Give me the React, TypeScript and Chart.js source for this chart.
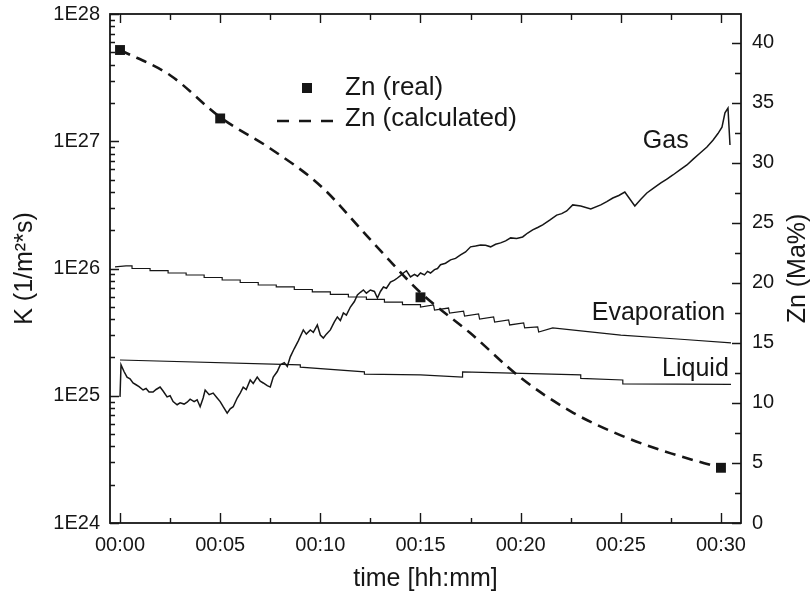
import React, { useEffect, useRef } from 'react';
import { Chart, registerables } from 'chart.js';

Chart.register(...registerables);

const FONT = '"Liberation Sans", Arial, Helvetica, sans-serif';
const INK = '#161616';

// ---- tick values ----
const timeTicks = [0, 5, 10, 15, 20, 25, 30];
const znTicks = [0, 5, 10, 15, 20, 25, 30, 35, 40];
const kDecades = [1e24, 1e25, 1e26, 1e27, 1e28];

// ---- Gas (K, 1/m²s) ----
const gasTime = [
  0.0, 0.05, 0.2, 0.35, 0.5, 0.65, 0.8, 0.95, 1.15, 1.3, 1.45, 1.65, 1.8, 2.0, 2.15, 2.35, 2.5, 2.65, 2.85, 3.0,
  3.2, 3.35, 3.5, 3.7, 3.85, 4.0, 4.15, 4.25, 4.45, 4.65, 4.85, 5.0, 5.15, 5.35, 5.5, 5.65, 5.85, 6.0, 6.15, 6.3,
  6.5, 6.65, 6.85, 7.0, 7.15, 7.35, 7.5, 7.65, 7.85, 8.0, 8.2, 8.35, 8.5, 8.7, 8.9, 9.15, 9.3, 9.5, 9.65, 9.85,
  10.0, 10.15, 10.3, 10.5, 10.7, 10.85, 11.0, 11.15, 11.3, 11.5, 11.7, 11.85, 12.0, 12.15, 12.3, 12.5, 12.7, 12.85, 13.0, 13.15,
  13.3, 13.5, 13.7, 13.85, 14.0, 14.15, 14.3, 14.5, 14.7, 14.85, 15.0, 15.2, 15.35, 15.5, 15.7, 15.85, 16.0, 16.25, 16.5, 16.75,
  17.0, 17.25, 17.5, 17.75, 18.0, 18.25, 18.5, 18.75, 19.0, 19.25, 19.5, 19.8, 20.1, 20.35, 20.6, 20.85, 21.1, 21.45, 21.8, 22.05,
  22.3, 22.6, 23.0, 23.5, 24.0, 24.3, 24.6, 24.9, 25.2, 25.7, 26.0, 26.3, 26.65, 27.0, 27.3, 27.6, 27.95, 28.3, 28.6, 28.96,
  29.3, 29.6, 29.85, 30.05, 30.2, 30.35, 30.45,
];
const gasK = [
  9.8e24, 1.75e25, 1.55e25, 1.4e25, 1.36e25, 1.26e25, 1.22e25, 1.18e25, 1.11e25, 1.14e25, 1.07e25, 1.07e25, 1.12e25, 1.17e25, 1.09e25, 9.8e24, 1.0e25, 9.0e24, 8.5e24, 8.8e24,
  8.6e24, 8.9e24, 9.4e24, 9.0e24, 9.3e24, 8.2e24, 9.6e24, 1.11e25, 1.02e25, 1.05e25, 9.6e24, 9.0e24, 8.2e24, 7.3e24, 7.9e24, 8.2e24, 9.6e24, 1.05e25, 1.17e25, 1.12e25,
  1.33e25, 1.25e25, 1.4e25, 1.3e25, 1.26e25, 1.2e25, 1.17e25, 1.4e25, 1.55e25, 1.75e25, 1.82e25, 1.7e25, 2.02e25, 2.35e25, 2.7e25, 3.29e25, 3.05e25, 3.29e25, 3.15e25, 3.6e25,
  3.0e25, 2.84e25, 3.05e25, 3.29e25, 3.8e25, 4.16e25, 3.9e25, 4.47e25, 4.3e25, 4.98e25, 5.5e25, 6.19e25, 6.5e25, 6.78e25, 6.4e25, 6.78e25, 6.6e25, 5.86e25, 6.6e25, 7.16e25,
  7.0e25, 7.83e25, 8.1e25, 8.42e25, 8.8e25, 9.22e25, 9.6e25, 8.58e25, 9.0e25, 8.7e25, 9.22e25, 8.9e25, 9.5e25, 9.22e25, 9.8e25, 1.0e26, 1.07e26, 1.1e26, 1.17e26, 1.2e26,
  1.28e26, 1.35e26, 1.48e26, 1.5e26, 1.53e26, 1.52e26, 1.48e26, 1.55e26, 1.59e26, 1.65e26, 1.74e26, 1.72e26, 1.77e26, 1.9e26, 2.01e26, 2.1e26, 2.2e26, 2.4e26, 2.63e26, 2.7e26,
  2.83e26, 3.16e26, 3.1e26, 2.94e26, 3.16e26, 3.35e26, 3.58e26, 3.75e26, 3.99e26, 3.1e26, 3.5e26, 3.92e26, 4.3e26, 4.7e26, 5.05e26, 5.43e26, 5.95e26, 6.51e26, 7.2e26, 8.09e26,
  9.0e26, 1.02e27, 1.15e27, 1.29e27, 1.67e27, 1.82e27, 9.35e26,
];

// ---- Evaporation (K, 1/m²s) ----
const evapTime = [
  -0.25, 0.3, 0.6, 0.6, 1.5, 1.5, 2.4, 2.4, 3.3, 3.3, 4.2, 4.2, 5.1, 5.1, 6.0, 6.0, 6.9, 6.9, 7.8, 7.8,
  8.7, 8.7, 9.6, 9.6, 10.5, 10.5, 11.4, 11.4, 12.3, 12.3, 13.2, 13.2, 14.1, 14.1, 15.0, 15.0,
  15.65, 15.7, 16.4, 16.45, 17.15, 17.2, 17.9, 17.95, 18.65, 18.7, 19.4, 19.45, 20.15, 20.2, 20.85, 20.9,
  21.6, 25.0, 28.0, 30.5,
];
const evapK = [
  1.03e26, 1.05e26, 1.05e26, 1.0e26, 1.0e26, 9.64e25, 9.64e25, 9.22e25, 9.22e25, 8.89e25, 8.89e25, 8.5e25, 8.5e25, 8.12e25, 8.12e25, 7.76e25, 7.76e25, 7.42e25, 7.42e25, 7.16e25,
  7.16e25, 6.84e25, 6.84e25, 6.54e25, 6.54e25, 6.25e25, 6.25e25, 5.97e25, 5.97e25, 5.71e25, 5.71e25, 5.45e25, 5.45e25, 5.21e25, 5.21e25, 4.98e25,
  5.17e25, 4.72e25, 4.89e25, 4.47e25, 4.63e25, 4.23e25, 4.39e25, 4.01e25, 4.16e25, 3.8e25, 3.94e25, 3.6e25, 3.73e25, 3.41e25, 3.47e25, 3.17e25,
  3.41e25, 3.0e25, 2.78e25, 2.6e25,
];

// ---- Liquid (K, 1/m²s) ----
const liquidTime = [0.0, 9.0, 9.0, 12.2, 12.2, 15.0, 17.1, 17.1, 23.0, 23.0, 25.1, 25.1, 30.5];
const liquidK = [1.91e25, 1.75e25, 1.68e25, 1.54e25, 1.48e25, 1.46e25, 1.4e25, 1.54e25, 1.46e25, 1.37e25, 1.33e25, 1.24e25, 1.23e25];

// ---- Zn content (Ma%) ----
const znRealTime = [0, 5, 15, 30];
const znReal = [39.4, 33.7, 18.8, 4.6];
const znCalcTime = [0, 2.5, 5, 7.5, 10, 12.5, 15, 17.5, 20, 22.5, 25, 27.5, 30];
const znCalc = [39.4, 37.3, 33.8, 31.2, 28.1, 23.6, 19.2, 15.8, 12.1, 9.3, 7.3, 5.8, 4.6];

// ---- series name labels, anchored in data units ----
const seriesNames = ['Gas', 'Evaporation', 'Liquid'];
const seriesNameTime = [26.1, 23.55, 27.06];
const seriesNameK = [1.0e27, 4.45e25, 1.62e25];

const legendNames = ['Zn (real)', 'Zn (calculated)'];

const pts = (xs: number[], ys: number[]) => xs.map((x, i) => ({ x, y: ys[i] }));
const pad2 = (v: number) => (v < 10 ? '0' + v : String(v));

const noEdgePadding = (s: any) => {
  s.paddingTop = 0;
  s.paddingBottom = 0;
  s.paddingLeft = 0;
  s.paddingRight = 0;
};

const decorPlugin = {
  id: 'decor',
  afterDatasetsDraw(chart: any) {
    const { ctx, chartArea, scales } = chart;
    const { left, right, top, bottom } = chartArea;
    const xs = scales.x;
    const ys = scales.y;
    const y2 = scales.y2;
    ctx.save();
    ctx.strokeStyle = INK;
    // inward ticks
    ctx.lineWidth = 1.4;
    ctx.beginPath();
    timeTicks.forEach((v, i) => {
      const px = Math.round(xs.getPixelForValue(v)) + 0.5;
      ctx.moveTo(px, bottom); ctx.lineTo(px, bottom - 10);
      ctx.moveTo(px, top); ctx.lineTo(px, top + 9);
      if (i < timeTicks.length - 1) {
        const m = Math.round(xs.getPixelForValue((v + timeTicks[i + 1]) / 2)) + 0.5;
        ctx.moveTo(m, bottom); ctx.lineTo(m, bottom - 5);
        ctx.moveTo(m, top); ctx.lineTo(m, top + 6);
      }
    });
    znTicks.forEach((v, i) => {
      const py = Math.round(y2.getPixelForValue(v)) + 0.5;
      ctx.moveTo(right, py); ctx.lineTo(right - 9, py);
      if (i < znTicks.length - 1) {
        const m = Math.round(y2.getPixelForValue((v + znTicks[i + 1]) / 2)) + 0.5;
        ctx.moveTo(right, m); ctx.lineTo(right - 6, m);
      }
    });
    kDecades.forEach((v, i) => {
      const py = Math.round(ys.getPixelForValue(v)) + 0.5;
      ctx.moveTo(left, py); ctx.lineTo(left + 9, py);
      if (i < kDecades.length - 1) {
        for (let m = 2; m <= 9; m++) {
          const q = Math.round(ys.getPixelForValue(v * m)) + 0.5;
          ctx.moveTo(left, q); ctx.lineTo(left + 5, q);
        }
      }
    });
    ctx.stroke();
    // frame
    ctx.lineWidth = 1.8;
    ctx.strokeRect(left, top, right - left, bottom - top);

    // series names
    ctx.fillStyle = INK;
    ctx.font = `25px ${FONT}`;
    ctx.textAlign = 'left';
    ctx.textBaseline = 'middle';
    seriesNames.forEach((name, i) => {
      ctx.fillText(name, xs.getPixelForValue(seriesNameTime[i]), ys.getPixelForValue(seriesNameK[i]));
    });

    // legend
    const lx = left + 197;
    const ly1 = top + 74;
    const ly2 = top + 105;
    ctx.font = `26px ${FONT}`;
    ctx.fillRect(lx - 5, ly1 - 5, 10, 10);
    ctx.fillText(legendNames[0], left + 235, ly1);
    ctx.lineWidth = 2.6;
    ctx.setLineDash([12, 10]);
    ctx.beginPath();
    ctx.moveTo(left + 167, ly2 + 2);
    ctx.lineTo(left + 229, ly2 + 2);
    ctx.stroke();
    ctx.setLineDash([]);
    ctx.fillText(legendNames[1], left + 235, ly2);

    // right axis title (reads bottom-to-top)
    ctx.save();
    ctx.font = `25px ${FONT}`;
    ctx.textAlign = 'center';
    ctx.textBaseline = 'middle';
    ctx.translate(y2.right - 13, (top + bottom) / 2);
    ctx.rotate(-Math.PI / 2);
    ctx.fillText('Zn (Ma%)', 0, 0);
    ctx.restore();
    ctx.restore();
  },
};

export default function App() {
  const ref = useRef<HTMLCanvasElement | null>(null);
  useEffect(() => {
    if (!ref.current) return;
    const tickFont = { family: FONT, size: 20 };
    const titleFont = { family: FONT, size: 25 };
    const chart = new Chart(ref.current, {
      type: 'line',
      data: {
        datasets: [
          { label: 'Gas', data: pts(gasTime, gasK), yAxisID: 'y', borderColor: INK, borderWidth: 1.5, pointRadius: 0, tension: 0 },
          { label: 'Evaporation', data: pts(evapTime, evapK), yAxisID: 'y', borderColor: INK, borderWidth: 1.2, pointRadius: 0, tension: 0 },
          { label: 'Liquid', data: pts(liquidTime, liquidK), yAxisID: 'y', borderColor: INK, borderWidth: 1.2, pointRadius: 0, tension: 0 },
          {
            label: 'Zn (calculated)', data: pts(znCalcTime, znCalc), yAxisID: 'y2', borderColor: INK, borderWidth: 2.6,
            borderDash: [11, 7], pointRadius: 0, cubicInterpolationMode: 'monotone',
          },
          {
            label: 'Zn (real)', data: pts(znRealTime, znReal), yAxisID: 'y2', showLine: false, pointStyle: 'rect',
            pointRadius: 7, backgroundColor: INK, borderColor: INK, borderWidth: 0,
          },
        ],
      } as any,
      options: {
        animation: false,
        responsive: false,
        maintainAspectRatio: false,
        layout: { padding: { top: 14, left: 0, right: 0, bottom: 0 } },
        plugins: { legend: { display: false }, tooltip: { enabled: false }, title: { display: false } },
        scales: {
          x: {
            type: 'linear', position: 'bottom', min: -0.5, max: 31,
            grid: { display: false, drawTicks: false }, border: { display: false },
            ticks: {
              stepSize: 5, includeBounds: false, padding: 10, font: tickFont, color: INK, maxRotation: 0, autoSkip: false,
              callback: (v: any) => '00:' + pad2(Number(v)),
            },
            title: { display: true, text: 'time [hh:mm]', font: titleFont, color: INK, padding: { top: 0, bottom: 8 } },
            afterFit: (s: any) => { s.height = 79; noEdgePadding(s); },
          },
          y: {
            type: 'logarithmic', position: 'left', min: 1e24, max: 1e28,
            grid: { display: false, drawTicks: false }, border: { display: false },
            afterBuildTicks: (s: any) => { s.ticks = kDecades.map((v) => ({ value: v, major: true })); },
            ticks: {
              padding: 10, font: tickFont, color: INK, autoSkip: false,
              callback: (v: any) => '1E' + Math.round(Math.log10(Number(v))),
            },
            title: { display: true, text: 'K (1/m²*s)', font: titleFont, color: INK, padding: { top: 10, bottom: 0 } },
            afterFit: (s: any) => { s.width = 110; noEdgePadding(s); },
          },
          y2: {
            type: 'linear', position: 'right', min: 0, max: 42.4,
            grid: { display: false, drawTicks: false }, border: { display: false },
            ticks: { stepSize: 5, includeBounds: false, padding: 11, font: tickFont, color: INK, autoSkip: false },
            afterFit: (s: any) => { s.width = 70; noEdgePadding(s); },
          },
        },
      } as any,
      plugins: [decorPlugin],
    });
    return () => chart.destroy();
  }, []);
  return (
    <div style={{ position: 'fixed', left: 0, top: 0, width: 811, height: 602, background: '#fff' }}>
      <canvas ref={ref} width={811} height={602} style={{ width: 811, height: 602 }} />
    </div>
  );
}
